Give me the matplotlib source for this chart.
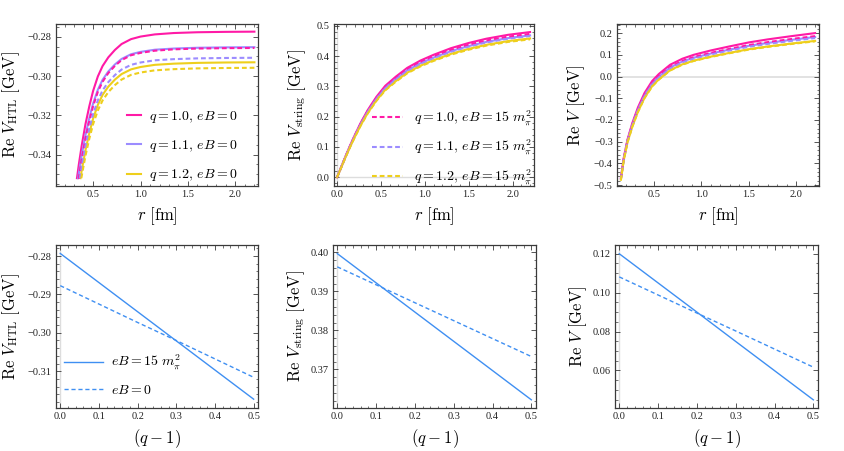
import matplotlib
matplotlib.use("Agg")
import matplotlib.pyplot as plt
from matplotlib.ticker import MultipleLocator, FuncFormatter

plt.rcParams['font.family'] = ['Liberation Serif', 'DejaVu Serif']
plt.rcParams['mathtext.fontset'] = 'cm'

# ---- data ----
# top left: Re V_HTL vs r (solid eB=0, dashed eB=15 m_pi^2)
r_htl_m = [0.33, 0.35, 0.38, 0.42, 0.46, 0.50, 0.55, 0.60, 0.66, 0.73, 0.80, 0.90, 1.00, 1.15, 1.35, 1.60, 1.90, 2.20]
htl_q10_eb0 = [-0.3520, -0.3449, -0.3354, -0.3244, -0.3154, -0.3076, -0.3002, -0.2949, -0.2905, -0.2867, -0.2837,
               -0.2812, -0.2799, -0.2788, -0.2781, -0.2777, -0.2775, -0.2774]
r_htl_a = [0.342, 0.35, 0.38, 0.42, 0.46, 0.50, 0.55, 0.60, 0.66, 0.73, 0.80, 0.90, 1.00, 1.15, 1.35, 1.60, 1.90, 2.20]
htl_q11_eb0 = [-0.3520, -0.3494, -0.3404, -0.3300, -0.3214, -0.3140, -0.3070, -0.3019, -0.2977, -0.2941, -0.2913,
               -0.2889, -0.2877, -0.2866, -0.2860, -0.2856, -0.2854, -0.2853]
htl_q10_eb15 = [-0.3520, -0.3519, -0.3425, -0.3318, -0.3229, -0.3153, -0.3080, -0.3029, -0.2985, -0.2948, -0.2919,
                -0.2894, -0.2882, -0.2871, -0.2864, -0.2860, -0.2858, -0.2857]
r_htl_b = [0.36, 0.38, 0.42, 0.46, 0.50, 0.55, 0.60, 0.66, 0.73, 0.80, 0.90, 1.00, 1.15, 1.35, 1.60, 1.90, 2.20]
htl_q11_eb15 = [-0.3520, -0.3458, -0.3354, -0.3268, -0.3194, -0.3124, -0.3073, -0.3031, -0.2995, -0.2967, -0.2943,
                -0.2931, -0.2920, -0.2914, -0.2910, -0.2908, -0.2907]
r_htl_c = [0.367, 0.38, 0.42, 0.46, 0.50, 0.55, 0.60, 0.66, 0.73, 0.80, 0.90, 1.00, 1.15, 1.35, 1.60, 1.90, 2.20]
htl_q12_eb0 = [-0.3520, -0.3481, -0.3377, -0.3291, -0.3217, -0.3147, -0.3096, -0.3054, -0.3018, -0.2990, -0.2966,
               -0.2954, -0.2943, -0.2937, -0.2933, -0.2931, -0.2930]
r_htl_d = [0.376, 0.38, 0.42, 0.46, 0.50, 0.55, 0.60, 0.66, 0.73, 0.80, 0.90, 1.00, 1.15, 1.35, 1.60, 1.90, 2.20]
htl_q12_eb15 = [-0.3520, -0.3509, -0.3405, -0.3319, -0.3245, -0.3175, -0.3124, -0.3082, -0.3046, -0.3018, -0.2994,
                -0.2982, -0.2971, -0.2965, -0.2961, -0.2959, -0.2958]

# top middle: Re V_string vs r
r_str = [0, 0.05, 0.10, 0.15, 0.20, 0.27, 0.35, 0.45, 0.55, 0.67, 0.80, 0.95, 1.10, 1.30, 1.50, 1.70, 1.95, 2.20]
str_q10_eb0 = [0, 0.036, 0.072, 0.106, 0.138, 0.180, 0.222, 0.266, 0.302, 0.332, 0.361, 0.385, 0.404, 0.426, 0.443,
               0.457, 0.470, 0.479]
str_q10_eb15 = [0, 0.0356, 0.0711, 0.1047, 0.1363, 0.1778, 0.2192, 0.2627, 0.2982, 0.3279, 0.3565, 0.3802, 0.3990,
                0.4207, 0.4375, 0.4513, 0.4641, 0.473]
str_q11_eb0 = [0, 0.0352, 0.0703, 0.1036, 0.1348, 0.1759, 0.2169, 0.2599, 0.2951, 0.3244, 0.3527, 0.3761, 0.3947,
               0.4162, 0.4328, 0.4465, 0.4592, 0.468]
str_q11_eb15 = [0, 0.035, 0.0701, 0.1031, 0.1343, 0.1751, 0.216, 0.2588, 0.2938, 0.323, 0.3513, 0.3746, 0.3931,
                0.4145, 0.431, 0.4447, 0.4573, 0.466]
str_q12_eb0 = [0, 0.0344, 0.0688, 0.1013, 0.1319, 0.1721, 0.2122, 0.2543, 0.2887, 0.3174, 0.3451, 0.3681, 0.3862,
               0.4073, 0.4235, 0.4369, 0.4493, 0.458]
str_q12_eb15 = [0, 0.0342, 0.0684, 0.1007, 0.1311, 0.171, 0.2109, 0.2527, 0.2869, 0.3154, 0.343, 0.3658, 0.3838,
                0.4047, 0.4209, 0.4342, 0.4465, 0.455]

# top right: Re V vs r
r_tot = [0.15, 0.18, 0.22, 0.27, 0.33, 0.40, 0.48, 0.55, 0.67, 0.80, 0.92, 1.10, 1.30, 1.50, 1.70, 1.95, 2.20]
tot_q10_eb0 = [-0.467, -0.375, -0.29, -0.215, -0.142, -0.075, -0.02, 0.012, 0.055, 0.083, 0.101, 0.121, 0.140,
               0.158, 0.172, 0.187, 0.201]
tot_q10_eb15 = [-0.4705, -0.3792, -0.2949, -0.2213, -0.1497, -0.0837, -0.0292, 0.0025, 0.0452, 0.0729, 0.0905,
                0.1099, 0.1284, 0.1458, 0.1593, 0.1737, 0.187]
tot_q11_eb0 = [-0.4715, -0.3804, -0.2963, -0.2231, -0.1519, -0.0862, -0.0319, -0.0002, 0.0424, 0.0700, 0.0875,
               0.1068, 0.1251, 0.1423, 0.1556, 0.1699, 0.183]
tot_q11_eb15 = [-0.4728, -0.3819, -0.2981, -0.2254, -0.1547, -0.0893, -0.0352, -0.0036, 0.0389, 0.0664, 0.0837,
                0.1028, 0.1209, 0.1380, 0.1511, 0.1651, 0.178]
tot_q12_eb0 = [-0.476, -0.3858, -0.3026, -0.2312, -0.1618, -0.0973, -0.0438, -0.0125, 0.0298, 0.0571, 0.074,
               0.0926, 0.1101, 0.1267, 0.1392, 0.1528, 0.165]
tot_q12_eb15 = [-0.4765, -0.3864, -0.3033, -0.2321, -0.1629, -0.0986, -0.0451, -0.0138, 0.0284, 0.0556, 0.0725,
                0.091, 0.1085, 0.1249, 0.1374, 0.1509, 0.163]

# bottom row: vs (q-1)
qm1 = [0.0, 0.1, 0.2, 0.3, 0.4, 0.5]
htl_eb15 = [-0.2793, -0.2869, -0.2945, -0.3021, -0.3097, -0.3173]
htl_eb0 = [-0.2877, -0.2925, -0.2973, -0.3020, -0.3068, -0.3116]
str_eb15 = [0.3997, 0.3922, 0.3847, 0.3772, 0.3697, 0.3622]
str_eb0 = [0.3963, 0.3917, 0.3871, 0.3825, 0.3779, 0.3733]
tot_eb15 = [0.1200, 0.1050, 0.0900, 0.0749, 0.0599, 0.0449]
tot_eb0 = [0.1081, 0.0988, 0.0895, 0.0803, 0.0710, 0.0617]

q_labels = ['1.0', '1.1', '1.2']

PINK = '#ff1aa6'
LAV = '#9c8cff'
YEL = '#eecf1c'
BLUE = '#3f8ff2'
FRAME = '#3a3a3a'
DASH = (0, (2.3, 1.4))

fig = plt.figure(figsize=(8.45, 4.51), dpi=100)
W, H = 845.0, 451.0


def add_ax(x0, y0, x1, y1):
    return fig.add_axes([x0 / W, 1 - y1 / H, (x1 - x0) / W, (y1 - y0) / H])


def style(ax, xmaj, xmin, ymaj, ymin, xfmt, yfmt):
    ax.xaxis.set_major_locator(MultipleLocator(xmaj))
    ax.xaxis.set_minor_locator(MultipleLocator(xmin))
    ax.yaxis.set_major_locator(MultipleLocator(ymaj))
    ax.yaxis.set_minor_locator(MultipleLocator(ymin))
    ax.xaxis.set_major_formatter(FuncFormatter(lambda v, p: (xfmt % v).replace('-', '\u2212')))
    ax.yaxis.set_major_formatter(FuncFormatter(lambda v, p: (yfmt % v).replace('-', '\u2212')))
    ax.tick_params(which='both', direction='in', top=True, right=True, color=FRAME,
                   labelsize=7.5, labelcolor='#222222', pad=3)
    ax.tick_params(which='major', length=3.5, width=0.6)
    ax.tick_params(which='minor', length=1.8, width=0.5)
    for s in ax.spines.values():
        s.set_color(FRAME)
        s.set_linewidth(0.9)


axes_box = [
    (56, 24, 258.3, 186), (334, 24, 534, 186), (617, 24, 819, 186),
    (56, 245, 258.3, 408), (333, 245, 536, 408), (615, 245, 818, 408),
]
ax1, ax2, ax3, ax4, ax5, ax6 = [add_ax(*b) for b in axes_box]

lw = 1.5
# --- top left ---
h1 = ax1.plot(r_htl_m, htl_q10_eb0, color=PINK, lw=lw)[0]
h2 = ax1.plot(r_htl_a, htl_q11_eb0, color=LAV, lw=lw)[0]
h3 = ax1.plot(r_htl_c, htl_q12_eb0, color=YEL, lw=lw)[0]
ax1.plot(r_htl_a, htl_q10_eb15, color=PINK, lw=lw, ls=DASH)
ax1.plot(r_htl_b, htl_q11_eb15, color=LAV, lw=lw, ls=DASH)
ax1.plot(r_htl_d, htl_q12_eb15, color=YEL, lw=lw, ls=DASH)
ax1.set_xlim(0.109, 2.241)
ax1.set_ylim(-0.356, -0.2735)
style(ax1, 0.5, 0.1, 0.02, 0.005, '%.1f', '%.2f')
ax1.legend([h1, h2, h3], [r'$q = %s,\, eB = 0$' % q for q in q_labels], loc='upper left',
           bbox_to_anchor=(0.35, 0.475), frameon=False, fontsize=10, handlelength=1.0,
           handletextpad=0.6, labelspacing=0.95, borderpad=0, borderaxespad=0)
ax1.set_ylabel(r'$\mathrm{Re}\ V_{\mathrm{HTL}}\ [\mathrm{GeV}]$', fontsize=12)
ax1.set_xlabel(r'$r\ [\mathrm{fm}]$', fontsize=12)

# --- top middle ---
ax2.axhline(0, color='#dddddd', lw=1.0, zorder=0)
ax2.axvline(0, color='#dddddd', lw=1.0, zorder=0)
ax2.plot(r_str, str_q10_eb0, color=PINK, lw=lw)
ax2.plot(r_str, str_q11_eb0, color=LAV, lw=lw)
ax2.plot(r_str, str_q12_eb0, color=YEL, lw=lw)
g1 = ax2.plot(r_str, str_q10_eb15, color=PINK, lw=lw, ls=DASH)[0]
g2 = ax2.plot(r_str, str_q11_eb15, color=LAV, lw=lw, ls=DASH)[0]
g3 = ax2.plot(r_str, str_q12_eb15, color=YEL, lw=lw, ls=DASH)[0]
ax2.set_xlim(-0.035, 2.245)
ax2.set_ylim(-0.0287, 0.5056)
style(ax2, 0.5, 0.1, 0.1, 0.02, '%.1f', '%.1f')
ax2.legend([g1, g2, g3], [r'$q = %s,\, eB = 15\ m_\pi^2$' % q for q in q_labels], loc='upper left',
           bbox_to_anchor=(0.19, 0.48), frameon=False, fontsize=10, handlelength=2.2,
           handletextpad=0.8, labelspacing=0.7, borderpad=0, borderaxespad=0)
ax2.set_ylabel(r'$\mathrm{Re}\ V_{\mathrm{string}}\ [\mathrm{GeV}]$', fontsize=12)
ax2.set_xlabel(r'$r\ [\mathrm{fm}]$', fontsize=12)

# --- top right ---
ax3.axhline(0, color='#dddddd', lw=1.2, zorder=0)
ax3.plot(r_tot, tot_q10_eb0, color=PINK, lw=lw)
ax3.plot(r_tot, tot_q11_eb0, color=LAV, lw=lw)
ax3.plot(r_tot, tot_q12_eb0, color=YEL, lw=lw)
ax3.plot(r_tot, tot_q10_eb15, color=PINK, lw=lw, ls=DASH)
ax3.plot(r_tot, tot_q11_eb15, color=LAV, lw=lw, ls=DASH)
ax3.plot(r_tot, tot_q12_eb15, color=YEL, lw=lw, ls=DASH)
ax3.set_xlim(0.109, 2.241)
ax3.set_ylim(-0.5046, 0.243)
style(ax3, 0.5, 0.1, 0.1, 0.02, '%.1f', '%.1f')
ax3.set_ylabel(r'$\mathrm{Re}\ V\ [\mathrm{GeV}]$', fontsize=12)
ax3.set_xlabel(r'$r\ [\mathrm{fm}]$', fontsize=12)

# --- bottom row ---
bottom = [
    (ax4, htl_eb15, htl_eb0, (-0.3196, -0.2771), 0.01, 0.002, r'$\mathrm{Re}\ V_{\mathrm{HTL}}\ [\mathrm{GeV}]$'),
    (ax5, str_eb15, str_eb0, (0.3601, 0.4019), 0.01, 0.002, r'$\mathrm{Re}\ V_{\mathrm{string}}\ [\mathrm{GeV}]$'),
    (ax6, tot_eb15, tot_eb0, (0.0407, 0.1245), 0.02, 0.005, r'$\mathrm{Re}\ V\ [\mathrm{GeV}]$'),
]
for ax, ys, yd, ylim, ymaj, ymin, ylab in bottom:
    ax.axvline(0, color='#dddddd', lw=1.0, zorder=0)
    ax.plot(qm1, ys, color=BLUE, lw=1.0, label=r'$eB = 15\ m_\pi^2$')
    ax.plot(qm1, yd, color=BLUE, lw=1.0, ls=(0, (3, 2)), label=r'$eB = 0$')
    ax.set_xlim(-0.011, 0.512)
    ax.set_ylim(*ylim)
    style(ax, 0.1, 0.02, ymaj, ymin, '%.1f', '%.2f')
    ax.set_ylabel(ylab, fontsize=12)
    ax.set_xlabel(r'$(q-1)$', fontsize=12)

ax4.legend(loc='upper left', bbox_to_anchor=(0.04, 0.34), frameon=False, fontsize=10,
           handlelength=2.8, handletextpad=0.6, labelspacing=0.85, borderpad=0, borderaxespad=0)

for ax, xc in zip([ax1, ax2, ax3, ax4, ax5, ax6], [-0.17, -0.13, -0.15, -0.17, -0.13, -0.13]):
    ax.yaxis.set_label_coords(xc, 0.5)
    ax.xaxis.set_label_coords(0.5, -0.12)

fig.savefig('out.png', dpi=100)
